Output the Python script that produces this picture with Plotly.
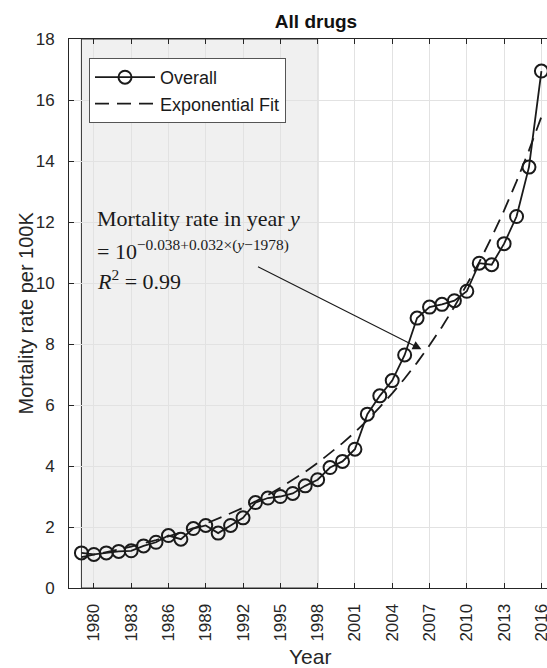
import plotly.graph_objects as go

years = list(range(1979, 2017))
overall = [1.15, 1.10, 1.15, 1.20, 1.22, 1.38, 1.50, 1.72, 1.60, 1.95,
           2.05, 1.80, 2.05, 2.30, 2.80, 2.95, 3.00, 3.10, 3.35, 3.55,
           3.95, 4.15, 4.55, 5.70, 6.30, 6.80, 7.64, 8.85, 9.21, 9.30,
           9.42, 9.73, 10.65, 10.60, 11.29, 12.18, 13.80, 16.95]
fit = [1.01, 1.09, 1.17, 1.26, 1.36, 1.46, 1.57, 1.69, 1.82, 1.96,
       2.11, 2.27, 2.45, 2.63, 2.84, 3.05, 3.29, 3.54, 3.81, 4.10,
       4.41, 4.75, 5.11, 5.50, 5.93, 6.38, 6.87, 7.39, 7.96, 8.56,
       9.22, 9.93, 10.68, 11.50, 12.38, 13.33, 14.35, 15.45]
x_ticks = list(range(1980, 2017, 3))
y_ticks = list(range(0, 19, 2))
shade_years = [1979, 1998]

INK = "#1a1a1a"
AX = "#262626"
W, H = 547, 668
ML, MR, MT, MB = 69, 0, 39, 80
PW, PH = W - ML - MR, H - MT - MB

def px_x(p):
    return (p - ML) / PW

def px_y(p):
    return (H - MB - p) / PH

fig = go.Figure()
fig.add_trace(go.Scatter(
    x=years, y=fit, mode="lines", name="Exponential Fit",
    line=dict(color=INK, width=1.8, dash="14px,8px"),
))
fig.add_trace(go.Scatter(
    x=years, y=overall, mode="lines+markers", name="Overall",
    line=dict(color=INK, width=1.8),
    marker=dict(symbol="circle-open", size=13, color=INK, line=dict(width=2, color=INK)),
))

fig.add_shape(type="rect", xref="x", yref="y", x0=shade_years[0], x1=shade_years[1],
              y0=0, y1=18, fillcolor="#f0f0f0", line=dict(color="#333333", width=1),
              layer="below")

serif = "Liberation Serif, Times New Roman, serif"
lines = [
    ("Mortality rate in year <i>y</i>", 12.58),
    ("= 10<sup>−0.038+0.032×(<i>y</i>−1978)</sup>", 11.61),
    ("<i>R</i><sup>2</sup> = 0.99", 10.63),
]
for txt, yy in lines:
    fig.add_annotation(x=1980.07, y=yy, xref="x", yref="y", text=txt, showarrow=False,
                       xanchor="left", yanchor="top",
                       font=dict(family=serif, size=22, color=INK))

fig.add_annotation(x=2006.35, y=7.83, ax=1993.08, ay=10.56, axref="x", ayref="y",
                   xref="x", yref="y", text="", showarrow=True, arrowhead=2,
                   arrowsize=1.6, arrowwidth=1.1, arrowcolor=INK, standoff=0, startstandoff=0)

# axis titles
fig.add_annotation(x=px_x(25), y=0.5, xref="paper", yref="paper", text="Mortality rate per 100K",
                   textangle=-90, showarrow=False, xanchor="center", yanchor="middle",
                   font=dict(size=20, color=AX))
fig.add_annotation(x=px_x(310), y=px_y(656), xref="paper", yref="paper", text="Year",
                   showarrow=False, xanchor="center", yanchor="middle",
                   font=dict(size=21, color=AX))

fig.update_layout(
    width=W, height=H,
    margin=dict(l=ML, r=MR, t=MT, b=MB),
    paper_bgcolor="white", plot_bgcolor="white",
    font=dict(family="Liberation Sans, Arial, sans-serif", color=AX, size=17),
    title=dict(text="<b>All drugs</b>", x=316 / W, xanchor="center", xref="container",
               y=1 - 21 / H, yanchor="middle", yref="container",
               font=dict(family="Liberation Sans, Arial, sans-serif", size=19, color="#111111")),
    showlegend=True,
    legend=dict(x=px_x(89), y=px_y(58), xanchor="left", yanchor="top",
                bgcolor="white", bordercolor="#555555", borderwidth=1,
                font=dict(size=18, color=INK), itemwidth=60,
                traceorder="reversed", tracegroupgap=0),
    xaxis=dict(range=[1978, 2016.45], tickmode="array", tickvals=x_ticks,
               ticktext=[str(v) for v in x_ticks], tickangle=-90,
               ticks="inside", ticklen=5, tickcolor=AX, showline=True, linecolor=AX,
               linewidth=1, mirror="ticks", showgrid=True, gridcolor="#e2e2e2", gridwidth=1,
               zeroline=False, ticklabelstandoff=8, automargin=False,
               ticklabeloverflow="allow"),
    yaxis=dict(range=[0, 18], tickmode="array", tickvals=y_ticks,
               ticks="inside", ticklen=5, tickcolor=AX, showline=True, linecolor=AX,
               linewidth=1, mirror=False, showgrid=True, gridcolor="#e2e2e2", gridwidth=1,
               zeroline=False, ticklabelstandoff=10, automargin=False),
)

fig.write_html("out.html", config={"displayModeBar": False},
               post_script="document.body.style.margin='0px';document.body.style.overflow='hidden';")
